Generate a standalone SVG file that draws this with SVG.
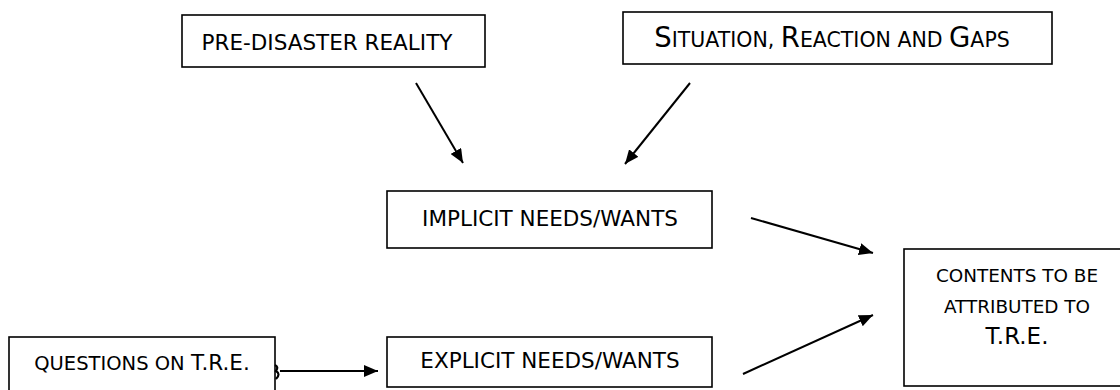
<svg xmlns="http://www.w3.org/2000/svg" width="1120" height="390" viewBox="0 0 1120 390">
<defs>
<style>
.box{fill:#fff;stroke:#000;stroke-width:1.6}
.t{font-family:"DejaVu Sans","Liberation Sans",sans-serif;fill:#000;text-anchor:middle}
.ln{stroke:#000;stroke-width:2;fill:none;marker-end:url(#ah)}
</style>
<marker id="ah" viewBox="0 0 14 12" refX="14" refY="6" markerWidth="7" markerHeight="6" markerUnits="strokeWidth" orient="auto">
<path d="M0,0 L14,6 L0,12 z" fill="#000"/>
</marker>
</defs>
<rect width="1120" height="390" fill="#fff"/>
<g id="pre">
<rect class="box" x="182" y="15" width="303" height="52"/>
<text class="t" x="327" y="50" font-size="21.5">PRE-DISASTER REALITY</text>
</g>
<g id="situation">
<rect class="box" x="623" y="12" width="429" height="52"/>
<text class="t" x="832" y="47" font-size="20.5"><tspan font-size="27.5">S</tspan>ITUATION, <tspan font-size="27.5">R</tspan>EACTION AND <tspan font-size="27.5">G</tspan>APS</text>
</g>
<g id="implicit">
<rect class="box" x="387" y="191" width="325" height="57"/>
<text class="t" x="550" y="226" font-size="21.5">IMPLICIT NEEDS/WANTS</text>
</g>
<g id="contents">
<rect class="box" x="904" y="249" width="230" height="137"/>
<text class="t" x="1017" y="282" font-size="18.4">CONTENTS TO BE</text>
<text class="t" x="1017" y="313" font-size="18.4">ATTRIBUTED TO</text>
<text class="t" x="1017" y="344" font-size="23">T.R.E.</text>
</g>
<g id="questions">
<rect class="box" x="9" y="337" width="266" height="60"/>
<text class="t" x="142" y="370" font-size="19.5">QUESTIONS ON <tspan font-size="21.5">T.R.E.</tspan></text>
<path d="M275,365 q4,2 1,6 q5,3 0,8" stroke="#000" stroke-width="2.2" fill="none"/>
</g>
<g id="explicit">
<rect class="box" x="387" y="337" width="325" height="50"/>
<text class="t" x="550" y="368" font-size="21.5">EXPLICIT NEEDS/WANTS</text>
</g>
<g id="connectors">
<line class="ln" x1="416" y1="83" x2="463" y2="163"/>
<line class="ln" x1="690" y1="83" x2="625" y2="164"/>
<line class="ln" x1="751" y1="218" x2="873" y2="253"/>
<line class="ln" x1="280" y1="371" x2="378" y2="371"/>
<line class="ln" x1="743" y1="374" x2="873" y2="315"/>
</g>
</svg>
